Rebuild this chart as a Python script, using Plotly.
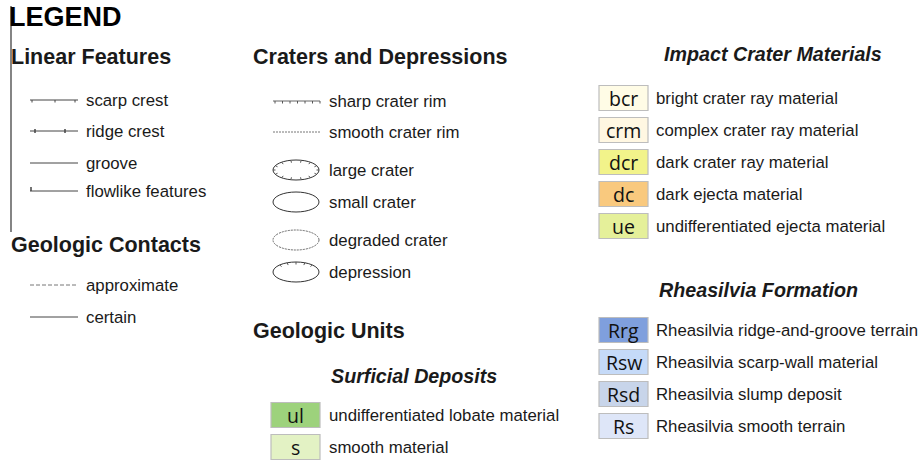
import math
import plotly.graph_objects as go

# ---- content ----
title_text = "LEGEND"
linear_labels = ["scarp crest", "ridge crest", "groove", "flowlike features"]
contact_labels = ["approximate", "certain"]
crater_line_labels = ["sharp crater rim", "smooth crater rim"]
crater_ellipse_labels = ["large crater", "small crater", "degraded crater", "depression"]
impact_codes = ["bcr", "crm", "dcr", "dc", "ue"]
impact_labels = ["bright crater ray material", "complex crater ray material",
                 "dark crater ray material", "dark ejecta material",
                 "undifferentiated ejecta material"]
impact_colors = ["#FFFCE6", "#FFF7E2", "#F2F38A", "#F9C97E", "#E5F09A"]
rhea_codes = ["Rrg", "Rsw", "Rsd", "Rs"]
rhea_labels = ["Rheasilvia ridge-and-groove terrain", "Rheasilvia scarp-wall material",
               "Rheasilvia slump deposit", "Rheasilvia smooth terrain"]
rhea_colors = ["#7F9FDD", "#C5DAF8", "#C8D5EA", "#DEE6F8"]
surf_codes = ["ul", "s"]
surf_labels = ["undifferentiated lobate material", "smooth material"]
surf_colors = ["#9DD27C", "#E3F2C4"]

HEAD = "Liberation Sans"
LINE_C = "#444444"
HS = 21.5   # heading size
SS = 19.7   # sub-heading size
LS = 16.8   # label size
shapes, annots = [], []

def text(x, y, s, size=LS, bold=False, italic=False, family=HEAD, anchor="left", color="#1a1a1a"):
    if bold:
        s = "<b>" + s + "</b>"
    if italic:
        s = "<i>" + s + "</i>"
    annots.append(dict(x=x, y=y, xref="x", yref="y", text=s, showarrow=False,
                       xanchor=anchor, yanchor="middle", borderpad=0,
                       font=dict(family=family, size=size, color=color)))

def line(x0, y0, x1, y1, color=LINE_C, width=1, dash="solid"):
    shapes.append(dict(type="line", xref="x", yref="y", x0=x0, y0=y0, x1=x1, y1=y1,
                       line=dict(color=color, width=width, dash=dash)))

def box(x0, y0, x1, y1, fill, code):
    shapes.append(dict(type="rect", xref="x", yref="y", x0=x0, y0=y0, x1=x1, y1=y1,
                       fillcolor=fill, line=dict(color="#BDBDBD", width=1.2)))
    text((x0 + x1) / 2, (y0 + y1) / 2 + 0.5, code, size=19.5, family="Open Sans",
         anchor="center", color="#111111")

# title + vertical rule
text(8, 17, title_text, size=27, bold=True, family=HEAD, color="#000000")
line(11, 6, 11, 232, color="#333333", width=1.2)

# Linear Features
text(10, 57, "Linear Features", size=HS, bold=True)
lin_y = [100, 131, 163, 191]
for lab, y in zip(linear_labels, lin_y):
    line(30, y, 78, y)
    text(85, y, lab)
for tx in [32, 55, 75]:
    line(tx, lin_y[0], tx, lin_y[0] + 2.5)
for tx in [35, 65]:
    line(tx, lin_y[1] - 2, tx, lin_y[1] + 2, width=1.5)
line(31, lin_y[3] - 4, 31, lin_y[3], width=1.5)

# Geologic Contacts
text(10, 245, "Geologic Contacts", size=HS, bold=True)
con_y = [285, 317]
for lab, y, d in zip(contact_labels, con_y, ["4px,2px", "solid"]):
    line(30, y, 78, y, dash=d, color="#777777" if d != "solid" else LINE_C)
    text(85, y, lab)

# Craters and Depressions
text(252, 57, "Craters and Depressions", size=HS, bold=True)
cl_y = [101, 132]
line(273, cl_y[0], 320, cl_y[0], color="#666666")
for i in range(7):
    tx = 275 + i * 7.5
    line(tx, cl_y[0], tx, cl_y[0] + 2.5, color="#555555")
line(273, cl_y[1], 320, cl_y[1], dash="2px,1px", color="#777777")
for lab, y in zip(crater_line_labels, cl_y):
    text(328, y, lab)

ce_y = [170, 202, 240, 272]
cx, rx, ry = 296, 23, 10
for k, (lab, y) in enumerate(zip(crater_ellipse_labels, ce_y)):
    dash = "2px,1px" if k == 2 else "solid"
    col = "#666666" if k == 2 else "#333333"
    shapes.append(dict(type="circle", xref="x", yref="y", x0=cx - rx, y0=y - ry,
                       x1=cx + rx, y1=y + ry, line=dict(color=col, width=1, dash=dash)))
    text(328, y, lab)
    if k in (0, 3):
        n = 14 if k == 0 else 5
        angs = [i * 2 * math.pi / 14 for i in range(14)] if k == 0 else \
               [math.pi * (1.25 + 0.125 * i) for i in range(n)]
        for a in angs:
            px, py = cx + rx * math.cos(a), y + ry * math.sin(a)
            qx, qy = cx + (rx - 2.5) * math.cos(a), y + (ry - 2.5) * math.sin(a)
            line(px, py, qx, qy, color="#555555")

# Geologic Units
text(252, 331, "Geologic Units", size=HS, bold=True)
text(413.5, 376, "Surficial Deposits", size=SS, bold=True, italic=True, anchor="center")
for i, (c, lab, col) in enumerate(zip(surf_codes, surf_labels, surf_colors)):
    y = 415 + i * 32
    box(271, y - 12.5, 320, y + 12.5, col, c)
    text(328, y, lab)

# Impact Crater Materials
text(772.5, 54, "Impact Crater Materials", size=SS, bold=True, italic=True, anchor="center")
for i, (c, lab, col) in enumerate(zip(impact_codes, impact_labels, impact_colors)):
    y = 98 + i * 32
    box(599, y - 12.5, 648, y + 12.5, col, c)
    text(655, y, lab)

# Rheasilvia Formation
text(758.5, 290, "Rheasilvia Formation", size=SS, bold=True, italic=True, anchor="center")
for i, (c, lab, col) in enumerate(zip(rhea_codes, rhea_labels, rhea_colors)):
    y = 330 + i * 32
    box(599, y - 12.5, 648, y + 12.5, col, c)
    text(655, y, lab)

fig = go.Figure()
fig.add_trace(go.Scatter(x=[0, 920], y=[0, 460], mode="markers",
                         marker=dict(opacity=0), hoverinfo="skip", showlegend=False))
fig.update_layout(width=920, height=460, margin=dict(l=0, r=0, t=0, b=0),
                  paper_bgcolor="white", plot_bgcolor="white",
                  shapes=shapes, annotations=annots, showlegend=False,
                  xaxis=dict(range=[0, 920], visible=False, fixedrange=True),
                  yaxis=dict(range=[460, 0], visible=False, fixedrange=True))
fig.write_html("out.html", config={"displayModeBar": False},
               post_script="document.body.style.margin='0';")
